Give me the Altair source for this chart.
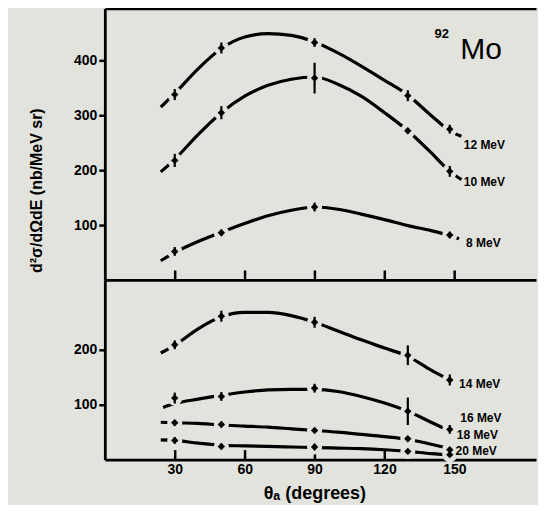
import altair as alt
import pandas as pd

# ---------------- data ----------------
ticks_x = [30, 60, 90, 120, 150]

# fitted curves (angle, value) per beam energy
c12_a = [24, 30, 40, 50, 60, 70, 80, 90, 100, 110, 120, 130, 140, 148, 153]
c12_v = [315, 340, 385, 422, 443, 449, 446, 434, 414, 390, 364, 337, 300, 272, 262]
c10_a = [24, 30, 40, 50, 60, 70, 80, 90, 100, 110, 120, 130, 140, 148, 153]
c10_v = [197, 220, 265, 305, 335, 355, 366, 370, 357, 335, 305, 272, 232, 198, 183]
c8_a = [24, 30, 40, 50, 60, 70, 80, 90, 100, 110, 120, 130, 140, 148, 152]
c8_v = [35, 50, 70, 87, 103, 117, 127, 133, 129, 120, 110, 99, 90, 81, 75]
c14_a = [24, 30, 40, 50, 60, 70, 80, 90, 100, 110, 120, 130, 140, 148]
c14_v = [194, 208, 238, 260, 268, 268, 262, 250, 234, 218, 203, 188, 163, 145]
c16_a = [25, 30, 40, 50, 60, 70, 80, 90, 100, 110, 120, 130, 140, 148, 150]
c16_v = [95, 102, 110, 117, 123, 127, 128, 128, 124, 115, 103, 88, 68, 52, 48]
c18_a = [24, 30, 40, 50, 60, 70, 80, 90, 100, 110, 120, 130, 140, 150]
c18_v = [68, 67, 66, 63, 61, 59, 56, 53, 50, 46, 42, 37, 28, 18]
c20_a = [24, 30, 40, 50, 60, 70, 80, 90, 100, 110, 120, 130, 140, 150]
c20_v = [36, 35, 30, 26, 25, 24, 23, 22, 21, 20, 18, 15, 11, 8]

# measured points with error
p_a = [30, 50, 90, 130, 148]
p8_a = [30, 50, 90, 148]
p8_v = [52, 86, 133, 82]
p8_e = [8, 6, 8, 6]
p10_v = [218, 305, 368, 272, 198]
p10_e = [12, 12, 28, 5, 10]
p12_v = [338, 423, 433, 336, 275]
p12_e = [10, 10, 8, 10, 8]
p14_v = [209, 261, 250, 190, 145]
p14_e = [8, 10, 10, 18, 10]
p16_v = [112, 115, 130, 88, 55]
p16_e = [10, 8, 8, 25, 8]
p18_v = [67, 64, 53, 38, 18]
p18_e = [5, 5, 4, 5, 5]
p20_v = [35, 24, 23, 15, 9]
p20_e = [6, 5, 6, 3, 4]

# curve labels
top_lab_text = ["12 MeV", "10 MeV", "8 MeV"]
top_lab_a = [154, 154, 155]
top_lab_v = [246, 179, 68]
bot_lab_text = ["14 MeV", "16 MeV", "18 MeV", "20 MeV"]
bot_lab_a = [152, 152.5, 151, 150.5]
bot_lab_v = [138, 76, 45, 15]

# nucleus annotation
mass_text = ["92"]
mass_a = [141.5]
mass_v = [442]
elem_text = ["Mo"]
elem_a = [152.5]
elem_v = [402]

BG = "#e3e3de"
FONT = "Liberation Sans"
XDOM = [0, 185]
W = 432
H_TOP = 272
H_BOT = 180


def curves(parts):
    rows = []
    for name, a, v in parts:
        rows += [{"s": name, "a": x, "v": y} for x, y in zip(a, v)]
    return pd.DataFrame(rows)


def points(parts):
    rows = []
    for name, a, v, e in parts:
        rows += [{"s": name, "a": x, "v": y, "lo": y - d, "hi": y + d}
                 for x, y, d in zip(a, v, e)]
    return pd.DataFrame(rows)


top_curves = curves([("12", c12_a, c12_v), ("10", c10_a, c10_v), ("8", c8_a, c8_v)])
bot_curves = curves([("14", c14_a, c14_v), ("16", c16_a, c16_v),
                     ("18", c18_a, c18_v), ("20", c20_a, c20_v)])
top_pts = points([("12", p_a, p12_v, p12_e), ("10", p_a, p10_v, p10_e),
                  ("8", p8_a, p8_v, p8_e)])
bot_pts = points([("14", p_a, p14_v, p14_e), ("16", p_a, p16_v, p16_e),
                  ("18", p_a, p18_v, p18_e), ("20", p_a, p20_v, p20_e)])
top_labs = pd.DataFrame({"t": top_lab_text, "a": top_lab_a, "v": top_lab_v})
bot_labs = pd.DataFrame({"t": bot_lab_text, "a": bot_lab_a, "v": bot_lab_v})
mass = pd.DataFrame({"t": mass_text, "a": mass_a, "v": mass_v})
elem = pd.DataFrame({"t": elem_text, "a": elem_a, "v": elem_v})

xscale = alt.Scale(domain=XDOM, nice=False, zero=False)

ax_domain_only = dict(domain=True, domainColor="black", domainWidth=2.8,
                      ticks=False, labels=False, title=None, grid=False)
ax_inward_ticks = dict(domain=False, ticks=True, tickSize=10, tickWidth=2.5,
                       tickColor="black", grid=False, values=ticks_x, offset=-10)


def panel(curve_df, pts_df, lab_df, ydom, yvals, height, x_axes, y_title, extras=()):
    yscale = alt.Scale(domain=ydom, nice=False, zero=True)
    yaxis_kw = dict(values=yvals, domain=True, domainColor="black", domainWidth=2.8,
                    ticks=True, tickSize=6, tickWidth=2.5, tickColor="black",
                    labelFont=FONT, labelFontSize=14, labelFontWeight="bold",
                    labelColor="black", labelPadding=2, grid=False)
    if y_title:
        yaxis_kw.update(title=y_title, titleFont=FONT, titleFontSize=16,
                        titleFontWeight="bold", titleColor="black",
                        titleX=-68, titleY=182, titleAngle=-90,
                        titleAlign="center", titleBaseline="middle")
    else:
        yaxis_kw.update(title=None)
    yaxis = alt.Axis(**yaxis_kw)

    def X(i):
        ax = x_axes[i] if i < len(x_axes) else None
        if ax is None:
            return alt.X("a:Q", scale=xscale, axis=None)
        return alt.X("a:Q", scale=xscale, axis=alt.Axis(**ax))

    def Y(field="v"):
        return alt.Y(f"{field}:Q", scale=yscale, axis=yaxis)

    lines = alt.Chart(curve_df).mark_line(
        color="black", strokeWidth=3.2, interpolate="monotone"
    ).encode(x=X(0), y=Y(), detail="s:N")
    halo = alt.Chart(pts_df).mark_point(
        filled=True, shape="circle", size=230, color=BG, opacity=1
    ).encode(x=X(1), y=Y())
    err = alt.Chart(pts_df).mark_rule(color="black", strokeWidth=2.2).encode(
        x=X(2), y=Y("lo"), y2="hi:Q")
    mk = alt.Chart(pts_df).mark_point(
        filled=True, shape="diamond", size=55, color="black", opacity=1
    ).encode(x=X(3), y=Y())
    labs = alt.Chart(lab_df).mark_text(
        align="left", baseline="middle", font=FONT, fontSize=12,
        fontWeight="bold", color="black"
    ).encode(x=X(4), y=Y(), text="t:N")
    layers = [lines, halo, err, mk, labs]
    for i, (df, fs, fw) in enumerate(extras):
        layers.append(alt.Chart(df).mark_text(
            align="left", baseline="alphabetic", font=FONT, color="black",
            fontSize=fs, fontWeight=fw
        ).encode(x=X(5 + i), y=Y(), text="t:N"))
    return alt.layer(*layers).resolve_axis(x="independent").properties(
        width=W, height=height)


top_x_axes = [
    dict(orient="top", **ax_domain_only),
    dict(orient="bottom", labels=False, title=None, **ax_inward_ticks),
    dict(orient="bottom", **ax_domain_only),
]
bot_x_axes = [
    dict(orient="bottom", labels=True, labelFont=FONT, labelFontSize=14,
         labelFontWeight="bold", labelColor="black", labelPadding=3,
         title="θₐ (degrees)", titleFont=FONT, titleFontSize=18,
         titleFontWeight="bold", titleColor="black", titleX=210, titlePadding=8,
         **ax_inward_ticks),
    dict(orient="bottom", **ax_domain_only),
]

top = panel(top_curves, top_pts, top_labs, [0, 495], [100, 200, 300, 400], H_TOP,
            top_x_axes, "d²σ/dΩdE (nb/MeV sr)",
            extras=[(mass, 13, "bold"), (elem, 30, "normal")])
bot = panel(bot_curves, bot_pts, bot_labs, [0, 327], [100, 200], H_BOT,
            bot_x_axes, None)

chart = alt.vconcat(top, bot, spacing=0, bounds="flush").configure(
    background=BG,
    padding={"left": 21, "top": 0, "right": 2, "bottom": 2},
).configure_view(stroke=None)

chart.save("out.html", embed_options={"renderer": "svg", "actions": False})
